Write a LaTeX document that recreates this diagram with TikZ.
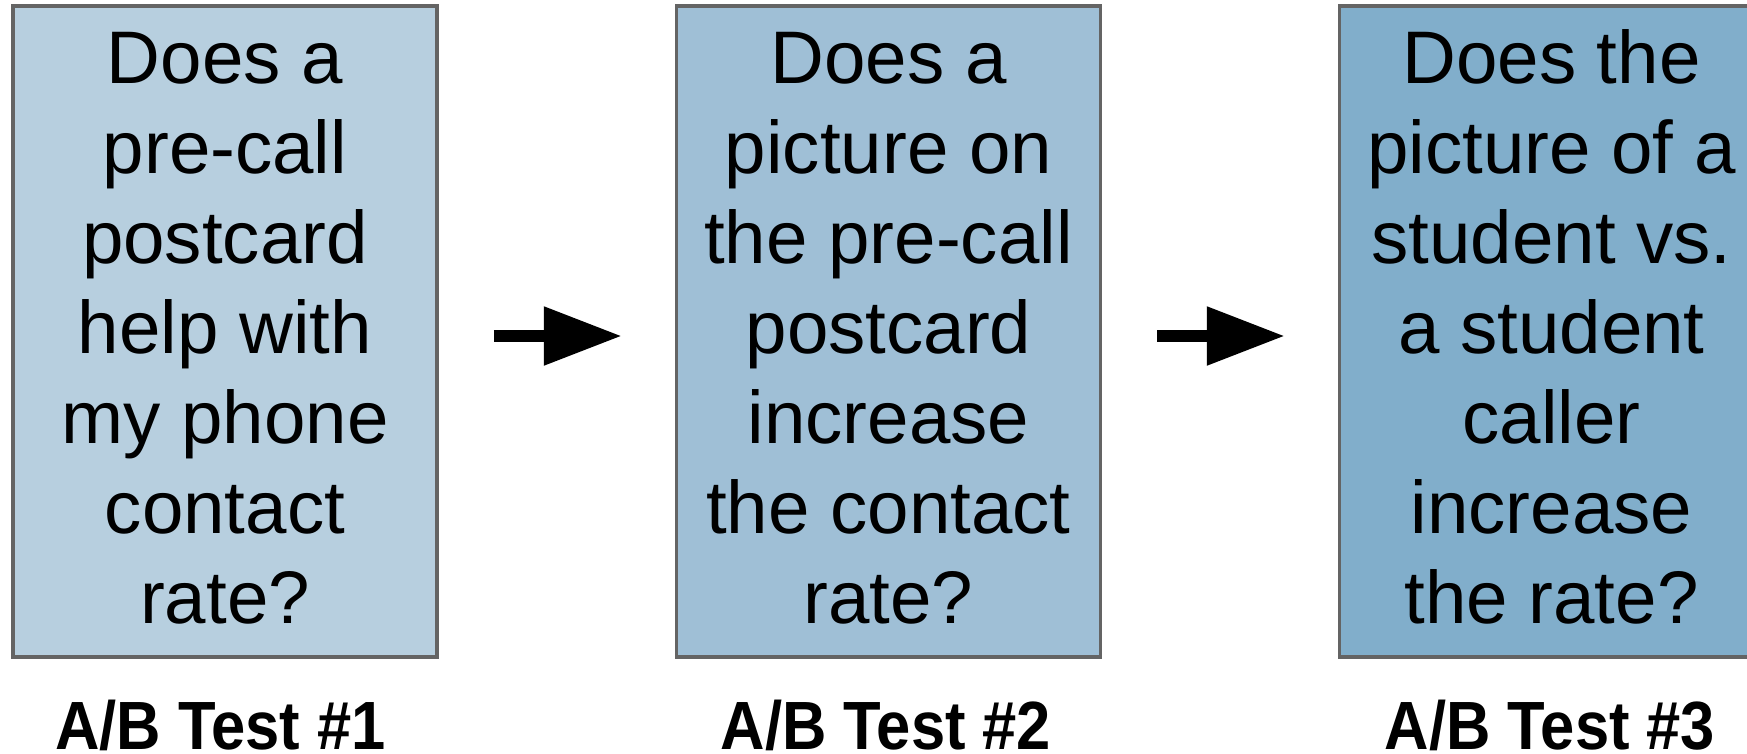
\documentclass[tikz,border=0pt]{standalone}
\usepackage{fontspec}
\usepackage{graphicx}
\setmainfont{Liberation Sans}
\usetikzlibrary{arrows.meta}
\definecolor{fillA}{RGB}{183,207,223}
\definecolor{fillB}{RGB}{159,191,214}
\definecolor{fillC}{RGB}{129,174,203}
\definecolor{edgegray}{RGB}{100,100,100}
\newcommand{\firststrut}{\rule{0pt}{60pt}}
\newcommand{\laststrut}{\rule[-17pt]{0pt}{17pt}}
\newcommand{\tallbold}[1]{\scalebox{1}[1.11]{#1}}
\tikzset{
  qbox/.style={draw=edgegray, line width=3.5pt, rectangle, minimum width=424pt, minimum height=651pt, inner sep=0pt, align=center, font=\fontsize{74.5}{90}\selectfont},
  testlabel/.style={anchor=base, inner sep=0pt, font=\fontsize{61.5}{70}\selectfont\bfseries},
  flowarrow/.style={line width=12pt, -{Triangle[length=78pt,width=56pt]}, shorten <=55pt, shorten >=53pt}
}
\begin{document}
\begin{tikzpicture}[x=1pt,y=-1pt]
\useasboundingbox (0,0) rectangle (1747,753);
\clip (0,0) rectangle (1747,753);
\node[qbox, fill=fillA] (b1) at (225,331.5) {\firststrut Does a\\pre-call\\postcard\\help with\\my phone\\contact\\rate?\laststrut};
\node[qbox, fill=fillB] (b2) at (888.5,331.5) {\firststrut Does a\\picture on\\the pre-call\\postcard\\increase\\the contact\\rate?\laststrut};
\node[qbox, fill=fillC] (b3) at (1551.5,331.5) {\firststrut Does the\\picture of a\\student vs.\\a student\\caller\\increase\\the rate?\laststrut};
\node[testlabel] (l1) at (220.5,749.5) {\tallbold{A/B Test \#1}};
\node[testlabel] (l2) at (886,749.5) {\tallbold{A/B Test \#2}};
\node[testlabel] (l3) at (1550,749.5) {\tallbold{A/B Test \#3}};
\draw[flowarrow] (b1.east |- 0,336) -- (b2.west |- 0,336);
\draw[flowarrow] (b2.east |- 0,336) -- (b3.west |- 0,336);
\end{tikzpicture}
\end{document}
